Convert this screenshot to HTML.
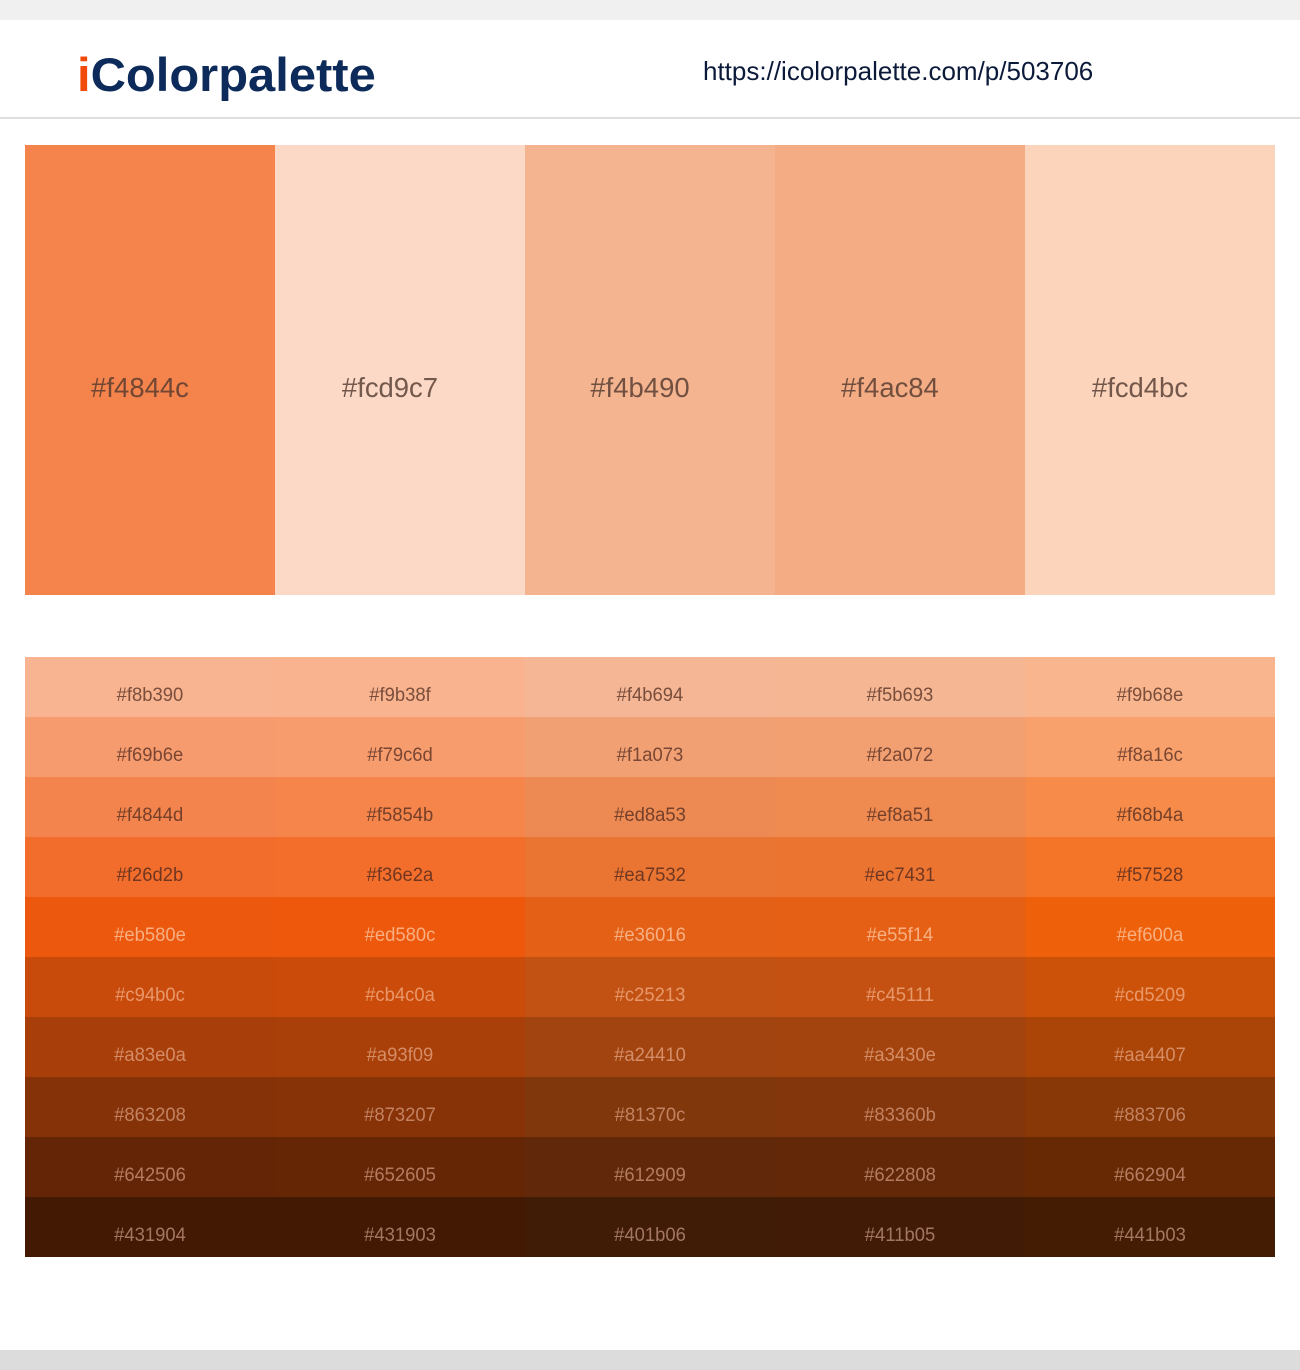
<!DOCTYPE html>
<html><head><meta charset="utf-8"><style>
*{margin:0;padding:0;box-sizing:border-box}
body{width:1300px;height:1370px;background:#fff;position:relative;overflow:hidden;font-family:"Liberation Sans",sans-serif}
#topbar{position:absolute;left:0;top:0;width:1300px;height:20px;background:#f0f0f0}
#header{position:absolute;left:0;top:20px;width:1300px;height:99px;background:#fff;border-bottom:2px solid #dedede}
#logo{position:absolute;left:77px;top:27px;font-size:47px;font-weight:bold;color:#0c2a5a;transform:scaleX(1.04);transform-origin:left}
#logo span{color:#f24a0c}
#url{position:absolute;left:703px;top:36px;font-size:26px;color:#0c1a3a;transform:scaleX(1.0);transform-origin:left}
.main{position:absolute;top:145px;width:250px;height:450px}
.main span{position:absolute;left:0;width:230px;top:227px;text-align:center;font-size:28px;color:rgba(80,55,45,0.8);transform:scaleX(0.98)}
.cell{position:absolute;width:250px;height:60px}
.cell span{position:absolute;left:0;width:250px;top:28px;text-align:center;font-size:19px;transform:scaleX(0.97)}
#bottombar{position:absolute;left:0;top:1350px;width:1300px;height:20px;background:#dcdcdc}
</style></head><body>
<div id="topbar"></div>
<div id="header">
<div id="logo"><span>i</span>Colorpalette</div>
<div id="url">https://icolorpalette.com/p/503706</div>
</div>
<div id="main"></div>
<div id="grid"></div>
<div id="bottombar"></div>
<script>
const mainColors=["f4844c","fcd9c7","f4b490","f4ac84","fcd4bc"];
const shades=[
["f8b390","f9b38f","f4b694","f5b693","f9b68e"],
["f69b6e","f79c6d","f1a073","f2a072","f8a16c"],
["f4844d","f5854b","ed8a53","ef8a51","f68b4a"],
["f26d2b","f36e2a","ea7532","ec7431","f57528"],
["eb580e","ed580c","e36016","e55f14","ef600a"],
["c94b0c","cb4c0a","c25213","c45111","cd5209"],
["a83e0a","a93f09","a24410","a3430e","aa4407"],
["863208","873207","81370c","83360b","883706"],
["642506","652605","612909","622808","662904"],
["431904","431903","401b06","411b05","441b03"]];
const textCols=["rgba(100,60,45,0.85)","rgba(100,55,40,0.85)","rgba(95,50,35,0.85)","rgba(90,45,30,0.85)","rgba(250,190,150,0.85)","rgba(240,170,130,0.8)","rgba(225,160,125,0.8)","rgba(210,150,120,0.8)","rgba(200,145,120,0.8)","rgba(180,135,115,0.85)"];
const main=document.getElementById('main');
mainColors.forEach((c,i)=>{
 const d=document.createElement('div');d.className='main';
 
 
 d.style.left=(25+i*250)+'px';d.style.background='#'+c;
 d.innerHTML='<span>#'+c+'</span>';main.appendChild(d);
});
const grid=document.getElementById('grid');
shades.forEach((row,r)=>row.forEach((c,i)=>{
 const d=document.createElement('div');d.className='cell';
 
 
 d.style.left=(25+i*250)+'px';d.style.top=(657+r*60)+'px';d.style.background='#'+c;
 d.innerHTML='<span style="color:'+textCols[r]+'">#'+c+'</span>';grid.appendChild(d);
}));
</script>
</body></html>
